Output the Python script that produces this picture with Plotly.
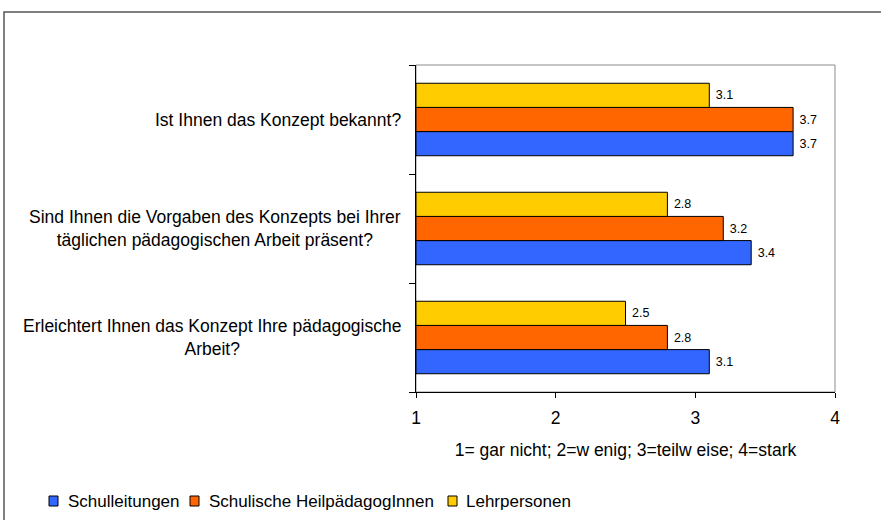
import plotly.graph_objects as go

# Survey items, listed bottom to top as they appear on the y axis
categories = [
    "Erleichtert Ihnen das Konzept Ihre pädagogische<br>Arbeit?",
    "Sind Ihnen die Vorgaben des Konzepts bei Ihrer<br>täglichen pädagogischen Arbeit präsent?",
    "Ist Ihnen das Konzept bekannt?",
]

series_names = ["Schulleitungen", "Schulische HeilpädagogInnen", "Lehrpersonen"]
schulleitungen = [3.1, 3.4, 3.7]
heilpaedagogen = [2.8, 3.2, 3.7]
lehrpersonen = [2.5, 2.8, 3.1]
series_values = [schulleitungen, heilpaedagogen, lehrpersonen]
series_colors = ["#3366FF", "#FF6600", "#FFCC00"]

x_ticks = [1, 2, 3, 4]
x_title = "1= gar nicht; 2=w enig; 3=teilw eise; 4=stark"

FONT = "Liberation Sans, Arial, sans-serif"
W, H = 881, 520
ML, MR, MT, MB = 416, 46, 65, 128
PW, PH = W - ML - MR, H - MT - MB


def px_x(px):
    """Convert a pixel column to paper x."""
    return (px - ML) / PW


def px_y(py):
    """Convert a pixel row to paper y."""
    return (H - MB - py) / PH


fig = go.Figure()
for name, vals, col in zip(series_names, series_values, series_colors):
    fig.add_trace(go.Bar(
        y=categories,
        x=[v - 1 for v in vals],
        base=1,
        orientation="h",
        name=name,
        marker=dict(color=col, line=dict(color="black", width=1)),
        text=[f"\u00a0{v:.1f}" for v in vals],
        textposition="outside",
        textfont=dict(size=12.5, color="black", family=FONT),
        cliponaxis=False,
        hoverinfo="skip",
        showlegend=False,
    ))

annotations = []
# category labels, centred line by line, right edge next to the axis
for cat in categories:
    annotations.append(dict(
        xref="paper", yref="y", x=0, y=cat, xanchor="right", yanchor="middle",
        xshift=-13, text=cat, align="center", showarrow=False,
        font=dict(size=17.5, family=FONT, color="black"),
    ))

# legend row along the bottom of the chart
legend_marker_px = [49, 190, 448]
legend_text_px = [66, 207, 464]
legend_y_px = 501
shapes = []
for name, col, mx, tx in zip(series_names, series_colors, legend_marker_px, legend_text_px):
    shapes.append(dict(
        type="rect", xref="paper", yref="paper",
        x0=px_x(mx), x1=px_x(mx + 9), y0=px_y(legend_y_px + 5), y1=px_y(legend_y_px - 5),
        fillcolor=col, line=dict(color="black", width=1),
    ))
    annotations.append(dict(
        xref="paper", yref="paper", x=px_x(tx), y=px_y(legend_y_px),
        xanchor="left", yanchor="middle", text=name, showarrow=False,
        font=dict(size=17, family=FONT, color="black"),
    ))

# plot area frame (top and right edges show in grey)
shapes.append(dict(type="rect", xref="paper", yref="paper", x0=0, x1=1, y0=0, y1=1,
                   line=dict(color="#8c8c8c", width=1), layer="below"))
# outer chart border
shapes.append(dict(type="rect", xref="paper", yref="paper",
                   x0=px_x(4), x1=px_x(900), y0=px_y(540), y1=px_y(12),
                   line=dict(color="#555555", width=1.5), layer="below"))

fig.update_layout(
    width=W,
    height=H,
    margin=dict(l=ML, r=MR, t=MT, b=MB),
    paper_bgcolor="white",
    plot_bgcolor="white",
    barmode="group",
    bargap=0.335,
    bargroupgap=0,
    font=dict(family=FONT, size=17.5, color="black"),
    showlegend=False,
    xaxis=dict(
        range=[1, 4],
        tickvals=x_ticks,
        ticktext=[str(t) for t in x_ticks],
        showgrid=False,
        zeroline=False,
        showline=True,
        linecolor="black",
        linewidth=1,
        ticks="outside",
        ticklen=5,
        tickcolor="black",
        tickfont=dict(size=17.5),
        ticklabelstandoff=5,
        title=dict(text=x_title, font=dict(size=17.5), standoff=16),
    ),
    yaxis=dict(
        showgrid=False,
        zeroline=False,
        showline=True,
        linecolor="black",
        linewidth=1,
        ticks="outside",
        ticklen=6,
        tickcolor="black",
        tickson="boundaries",
        showticklabels=False,
    ),
    annotations=annotations,
    shapes=shapes,
)

fig.write_html("out.html")
